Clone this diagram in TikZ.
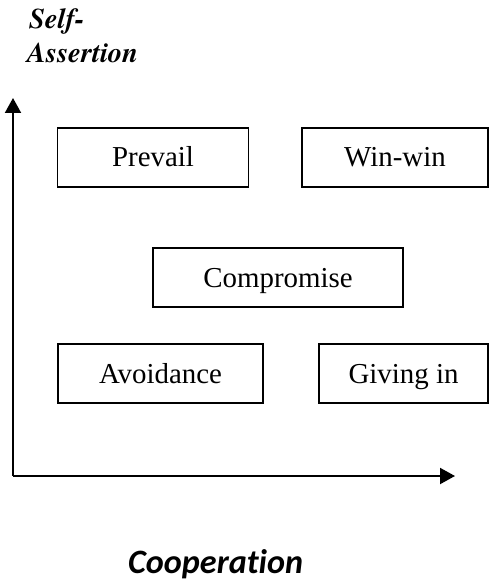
\documentclass[tikz,border=0pt]{standalone}
\usepackage{fontspec}
\setmainfont{Liberation Serif}
\newfontfamily\titlefont{texgyretermes-bolditalic.otf}
\newfontfamily\calib{Carlito}[UprightFont={* Bold Italic}, Ligatures=NoCommon]
\usetikzlibrary{arrows.meta}
\begin{document}
\begin{tikzpicture}[x=1bp,y=-1bp,
  stratbox/.style={draw, line width=1.3bp, inner sep=0pt, text height=39bp, text depth=20bp,
    font=\fontsize{29}{34}\selectfont},
  axisline/.style={line width=2bp, -{Triangle[length=15bp,width=16bp]}},
  axtitle/.style={anchor=base west, inner sep=0pt, font=\titlefont\fontsize{28.6}{34}\selectfont}]
\useasboundingbox (0,0) rectangle (489,584);
\node[stratbox, minimum width=191bp] (prevail) at (153,157.5) {Prevail};
\node[stratbox, minimum width=186bp] (winwin) at (395,157.5) {Win-win};
\node[stratbox, minimum width=250bp] (compromise) at (278,277.5) {Compromise};
\node[stratbox, minimum width=205bp] (avoidance) at (160.5,373.5) {Avoidance};
\node[stratbox, minimum width=169bp] (givingin) at (403.5,373.5) {Giving in};
\coordinate (origin) at (13,476);
\coordinate (ytop) at (13,98);
\coordinate (xend) at (455,476);
\draw[axisline] (origin) -- (ytop);
\draw[axisline] (origin) -- (xend);
\node[axtitle] (self) at (29,29) {Self-};
\node[axtitle] (assertion) at (27,63) {Assertion};
\node[anchor=base west, inner sep=0pt, font=\calib\fontsize{34.3}{40}\selectfont] (coop) at (128,573) {Cooperation};
\end{tikzpicture}
\end{document}
